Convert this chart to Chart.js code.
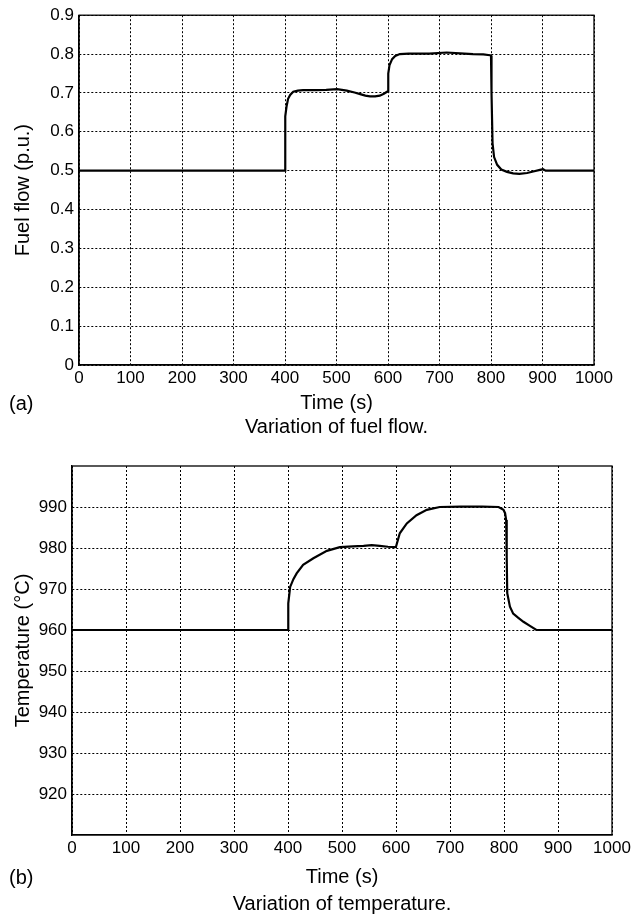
<!DOCTYPE html>
<html>
<head>
<meta charset="utf-8">
<script src="https://cdn.jsdelivr.net/npm/chart.js@4.4.1/dist/chart.umd.min.js"></script>
<style>
  html, body { margin: 0; padding: 0; background: #fff; }
  body { width: 634px; height: 917px; position: relative; overflow: hidden; font-family: "Liberation Sans", Arial, sans-serif; color: #000; }
  .box { position: absolute; left: 0; width: 634px; }
  .txt { position: absolute; font-size: 20px; line-height: 24px; white-space: nowrap; }
</style>
</head>
<body>
<div class="box" style="top:0;height:415px"><canvas id="c1"></canvas></div>
<div class="txt" style="left:9px;top:391px">(a)</div>
<div class="txt" style="left:0;width:673px;text-align:center;top:414px">Variation of fuel flow.</div>
<div class="box" style="top:450px;height:439px"><canvas id="c2"></canvas></div>
<div class="txt" style="left:9px;top:865px">(b)</div>
<div class="txt" style="left:0;width:684px;text-align:center;top:891px">Variation of temperature.</div>
<script>
// ---- data ----
const xTickValues = [0, 100, 200, 300, 400, 500, 600, 700, 800, 900, 1000];
const fuelTickValues = [0, 0.1, 0.2, 0.3, 0.4, 0.5, 0.6, 0.7, 0.8, 0.9];
const tempTickValues = [920, 930, 940, 950, 960, 970, 980, 990];

const fuelTime = [0, 400, 400.5, 403, 406, 410, 416, 425, 435, 460,
  480, 501, 520, 535, 546, 556, 565, 575, 584, 592,
  598, 600, 600.5, 603, 608, 614, 623, 640, 680, 714,
  740, 765, 785, 798, 800, 801, 803, 806, 812, 820,
  831, 843, 855, 870, 882, 895, 901, 906, 1000];
const fuelValue = [0.5, 0.5, 0.64, 0.665, 0.685, 0.695, 0.703, 0.706, 0.707, 0.707,
  0.708, 0.71, 0.706, 0.701, 0.697, 0.693, 0.691, 0.691, 0.693, 0.698,
  0.703, 0.705, 0.75, 0.772, 0.787, 0.795, 0.80, 0.801, 0.801, 0.804,
  0.802, 0.80, 0.799, 0.797, 0.796, 0.70, 0.57, 0.535, 0.515, 0.503,
  0.497, 0.493, 0.492, 0.494, 0.498, 0.502, 0.504, 0.5, 0.5];

const tempTime = [0, 400, 400.5, 404, 410, 416, 428, 447, 472, 496,
  520, 540, 555, 570, 585, 598, 600, 607, 620, 638,
  657, 681, 720, 760, 790, 799, 802, 804, 805, 806,
  811, 817, 826, 836, 848, 860, 1000];
const tempValue = [960, 960, 966.5, 970.5, 972.4, 973.8, 975.9, 977.5, 979.3, 980.2,
  980.4, 980.5, 980.7, 980.5, 980.3, 980.2, 980.3, 983.6, 986, 988,
  989.3, 990, 990.1, 990.1, 990, 989.3, 988.5, 986.8, 978, 969,
  965.7, 964, 963, 962, 961, 960, 960];

// ---- helpers ----
const FONT = '"Liberation Sans", Arial, sans-serif';
const frame = {
  id: 'frame',
  afterDraw(chart) {
    const a = chart.chartArea, ctx = chart.ctx;
    ctx.save();
    ctx.strokeStyle = '#000';
    ctx.lineWidth = 1.3;
    ctx.strokeRect(a.left, a.top, a.right - a.left, a.bottom - a.top);
    ctx.restore();
  }
};

function makeChart(id, xs, ys, cfg) {
  const pts = xs.map((x, i) => ({ x: x, y: ys[i] }));
  return new Chart(document.getElementById(id), {
    type: 'line',
    data: { datasets: [{ data: pts, borderColor: '#000', borderWidth: 2.2, pointRadius: 0, tension: 0, fill: false }] },
    options: {
      responsive: true, maintainAspectRatio: false, animation: false,
      layout: { padding: cfg.padding },
      plugins: { legend: { display: false }, tooltip: { enabled: false } },
      scales: {
        x: {
          type: 'linear', min: 0, max: 1000,
          afterBuildTicks: s => { s.ticks = xTickValues.map(v => ({ value: v })); },
          afterFit: s => { s.height = cfg.xHeight; },
          ticks: { color: '#000', font: { family: FONT, size: 17 }, padding: 3, maxRotation: 0, autoSkip: false,
                   callback: v => String(v) },
          grid: { color: '#000', lineWidth: 1, drawTicks: false, borderDash: [2, 2] },
          border: { display: true, color: '#000', width: 1.3, dash: [2, 2] },
          title: { display: true, text: 'Time (s)', color: '#000', font: { family: FONT, size: 20 }, padding: 0 }
        },
        y: {
          type: 'linear', min: cfg.yMin, max: cfg.yMax,
          afterBuildTicks: s => { s.ticks = cfg.yTicks.map(v => ({ value: v })); },
          afterFit: s => { s.width = cfg.yWidth; },
          ticks: { color: '#000', font: { family: FONT, size: 17 }, padding: 5, autoSkip: false,
                   callback: v => String(Math.round(v * 1000) / 1000) },
          grid: { color: '#000', lineWidth: 1, drawTicks: false, borderDash: [2, 2] },
          border: { display: true, color: '#000', width: 1.3, dash: [2, 2] },
          title: { display: true, text: cfg.yTitle, color: '#000', font: { family: FONT, size: 20 }, padding: { top: 11, bottom: 0 } }
        }
      }
    },
    plugins: [frame]
  });
}

makeChart('c1', fuelTime, fuelValue, {
  padding: { top: 13, right: 40, left: 0, bottom: 0 },
  xHeight: 50, yWidth: 79, yMin: 0, yMax: 0.9, yTicks: fuelTickValues, yTitle: 'Fuel flow (p.u.)'
});
makeChart('c2', tempTime, tempValue, {
  padding: { top: 16, right: 22, left: 0, bottom: 0 },
  xHeight: 54, yWidth: 72, yMin: 910, yMax: 1000, yTicks: tempTickValues, yTitle: 'Temperature (°C)'
});
</script>
</body>
</html>
